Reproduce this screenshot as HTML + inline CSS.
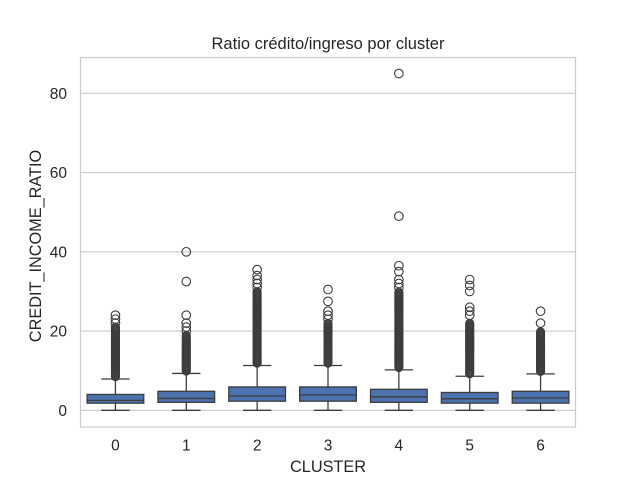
<!DOCTYPE html>
<html><head><meta charset="utf-8"><style>
body{margin:0;background:#fff}
svg text{font-family:"Liberation Sans",sans-serif;fill:#262626}
</style></head><body>
<svg id="chart" width="640" height="480" xmlns="http://www.w3.org/2000/svg">
<text x="328" y="49" text-anchor="middle" font-size="16.5">Ratio crédito/ingreso por cluster</text>
<g id="grid"></g>
<g id="plot"></g>
<rect x="80.5" y="57.5" width="495" height="369.5" fill="none" stroke="#cccccc" stroke-width="1.2"/>
<text x="328" y="472" text-anchor="middle" font-size="16.3">CLUSTER</text>
<text transform="translate(41,246) rotate(-90)" text-anchor="middle" font-size="16.3">CREDIT_INCOME_RATIO</text>
</svg>
<script>
const categories=["0","1","2","3","4","5","6"];
const q1=[1.8,2.0,2.3,2.3,2.0,1.8,1.8];
const medians=[2.5,3.0,3.6,3.9,3.4,2.9,3.1];
const q3=[4.0,4.8,5.9,5.9,5.3,4.5,4.8];
const whiskLow=[0,0,0,0,0,0,0];
const whiskHigh=[7.9,9.3,11.3,11.3,10.2,8.6,9.2];
const denseTop=[21,19,30,22,30,22,20];
const outliers=[[22,23,24],[20,21,22,24,32.5,40],[31,32,33,34,35.5],[23,24,25,27.5,30.5],[31,32,33,35,36.5,49,85],[24,25,26,30,31.5,33],[22,25]];
const yTicks=[0,20,40,60,80];
const ns="http://www.w3.org/2000/svg";
const L=80,R=576,y0=410.3,k=3.9625;
const y=v=>y0-v*k;
const bw=(R-L)/categories.length;
const x=i=>L+bw*(i+0.5);
function mk(t,a,p){const e=document.createElementNS(ns,t);for(const n in a)e.setAttribute(n,a[n]);p.appendChild(e);return e;}
const grid=document.getElementById('grid'),plot=document.getElementById('plot'),svg=document.getElementById('chart');
yTicks.forEach(t=>{
 const l=mk('line',{x1:L,x2:R,y1:y(t),y2:y(t),stroke:'#cccccc','stroke-width':1.1},grid);
 
 
 const tx=mk('text',{x:L-13,y:y(t)+5.5,'text-anchor':'end','font-size':15.5},svg);
 tx.textContent=t;
 
 
});
categories.forEach((c,i)=>{
 const cx=x(i),hw=bw*0.4,g=mk('g',{},plot);
 
 
 const st={stroke:'#3d3d3d','stroke-width':1.3};
 mk('line',Object.assign({x1:cx,x2:cx,y1:y(whiskLow[i]),y2:y(q1[i])},st),g);
 mk('line',Object.assign({x1:cx,x2:cx,y1:y(q3[i]),y2:y(whiskHigh[i])},st),g);
 mk('line',Object.assign({x1:cx-hw/2,x2:cx+hw/2,y1:y(whiskLow[i]),y2:y(whiskLow[i])},st),g);
 mk('line',Object.assign({x1:cx-hw/2,x2:cx+hw/2,y1:y(whiskHigh[i]),y2:y(whiskHigh[i])},st),g);
 mk('rect',Object.assign({x:cx-hw,y:y(q3[i]),width:2*hw,height:y(q1[i])-y(q3[i]),fill:'#4c72b0'},st),g);
 mk('line',Object.assign({x1:cx-hw,x2:cx+hw,y1:y(medians[i]),y2:y(medians[i])},st),g);
 for(let v=whiskHigh[i]+0.6;v<=denseTop[i];v+=0.25) mk('circle',{cx:cx,cy:y(v),r:4,fill:'none',stroke:'#3d3d3d','stroke-width':1.1},g);
 outliers[i].forEach(v=>{mk('circle',{cx:cx,cy:y(v),r:4.3,fill:'none',stroke:'#3d3d3d','stroke-width':1.1},g);});
 const tx=mk('text',{x:cx,y:y0+40,'text-anchor':'middle','font-size':15.5},svg);
 tx.textContent=c;
 
 
});
</script>
</body></html>
